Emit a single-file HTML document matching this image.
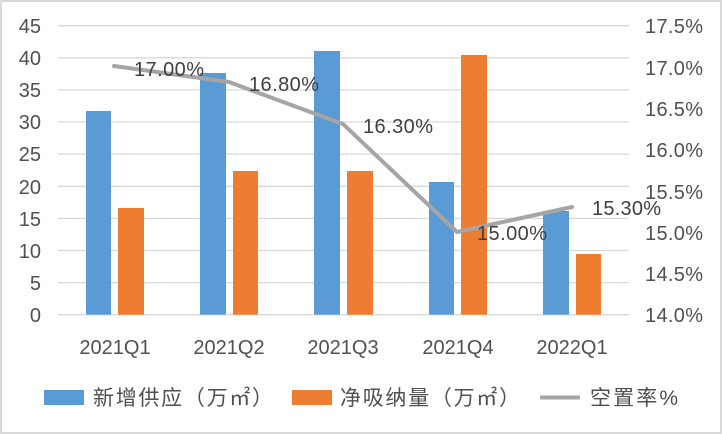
<!DOCTYPE html>
<html><head><meta charset="utf-8"><style>
body{margin:0;background:#fff}
svg{display:block}
text{font-family:"Liberation Sans","Noto Sans CJK SC",sans-serif;fill:#505050}
</style></head><body>
<svg width="722" height="434" viewBox="0 0 722 434">
<rect x="1" y="1" width="720" height="432" fill="#fff" stroke="#d9d9d9" stroke-width="2"/>
<g stroke="#d9d9d9" stroke-width="1.3">
<line x1="58" x2="629" y1="25.7" y2="25.7"/><line x1="58" x2="629" y1="57.8" y2="57.8"/>
<line x1="58" x2="629" y1="89.9" y2="89.9"/><line x1="58" x2="629" y1="122" y2="122"/>
<line x1="58" x2="629" y1="154.1" y2="154.1"/><line x1="58" x2="629" y1="186.3" y2="186.3"/>
<line x1="58" x2="629" y1="218.4" y2="218.4"/><line x1="58" x2="629" y1="250.5" y2="250.5"/>
<line x1="58" x2="629" y1="282.6" y2="282.6"/><line x1="58" x2="629" y1="314.7" y2="314.7"/>
</g>
<g fill="#5b9bd5">
<rect x="86" y="111" width="25" height="203.7"/>
<rect x="200" y="73" width="26" height="241.7"/>
<rect x="314" y="51" width="26" height="263.7"/>
<rect x="429" y="182" width="25" height="132.7"/>
<rect x="543" y="211" width="26" height="103.7"/>
</g>
<g fill="#ed7d31">
<rect x="118" y="208" width="26" height="106.7"/>
<rect x="233" y="171" width="25" height="143.7"/>
<rect x="347" y="171" width="26" height="143.7"/>
<rect x="461" y="55" width="26" height="259.7"/>
<rect x="576" y="254" width="25" height="60.7"/>
</g>
<polyline points="114,66 229,82 343,124 457,232 572,207" fill="none" stroke="#a5a5a5" stroke-width="4" stroke-linejoin="round" stroke-linecap="round"/>
<g font-size="20">
<text x="134" y="76" textLength="70" style="fill:#404040">17.00%</text>
<text x="249" y="91" textLength="70" style="fill:#404040">16.80%</text>
<text x="363" y="133" textLength="70" style="fill:#404040">16.30%</text>
<text x="477" y="240" textLength="70" style="fill:#404040">15.00%</text>
<text x="592" y="215" textLength="69" style="fill:#404040">15.30%</text>
</g>
<g font-size="20" text-anchor="end">
<text x="41" y="33">45</text><text x="41" y="65">40</text><text x="41" y="97">35</text>
<text x="41" y="129">30</text><text x="41" y="161">25</text><text x="41" y="194">20</text>
<text x="41" y="226">15</text><text x="41" y="258">10</text><text x="41" y="290">5</text>
<text x="41" y="322">0</text>
</g>
<g font-size="20">
<text x="645" y="33" textLength="58">17.5%</text><text x="645" y="75" textLength="58">17.0%</text><text x="645" y="116" textLength="58">16.5%</text>
<text x="645" y="157" textLength="58">16.0%</text><text x="645" y="199" textLength="58">15.5%</text><text x="645" y="240" textLength="58">15.0%</text>
<text x="645" y="281" textLength="58">14.5%</text><text x="645" y="322" textLength="58">14.0%</text>
</g>
<g font-size="20" text-anchor="middle">
<text x="115" y="354">2021Q1</text><text x="229" y="354">2021Q2</text><text x="343" y="354">2021Q3</text>
<text x="458" y="354">2021Q4</text><text x="572" y="354">2022Q1</text>
</g>
<rect x="44" y="390" width="40" height="15" fill="#5b9bd5"/>
<text x="93" y="405" font-size="21" textLength="180">新增供应（万㎡）</text>
<rect x="292" y="390" width="40" height="15" fill="#ed7d31"/>
<text x="340" y="405" font-size="21" textLength="180">净吸纳量（万㎡）</text>
<line x1="540" x2="580" y1="397.5" y2="397.5" stroke="#a5a5a5" stroke-width="4"/>
<text x="590" y="405" font-size="21" textLength="88">空置率%</text>
</svg>
</body></html>
